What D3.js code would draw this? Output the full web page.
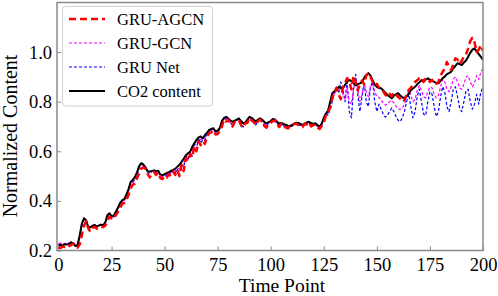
<!DOCTYPE html>
<html>
<head>
<meta charset="utf-8">
<script src="https://cdn.jsdelivr.net/npm/d3@7"></script>
<style>
  body { margin: 0; background: #fff; }
  svg { display: block; }
  text { font-family: "Liberation Serif", "Times New Roman", serif; }
</style>
</head>
<body>
<div id="chart-area"></div>
<script>
var xTicks = [0, 25, 50, 75, 100, 125, 150, 175, 200]
var yTicks = [0.2, 0.4, 0.6, 0.8, 1.0]
var seriesNames = ['GRU-AGCN', 'GRU-GCN', 'GRU Net', 'CO2 content']

// measured CO2 content, t = 0..200
var co2 = [
  .219, .222, .221, .225, .224, .226, .233, .227, .218, .222,
  .262, .308, .330, .322, .296, .293, .299, .303, .296, .300,
  .304, .302, .312, .342, .350, .338, .340, .356, .372, .392,
  .402, .408, .425, .448, .476, .484, .497, .515, .540, .552,
  .547, .534, .520, .518, .521, .523, .520, .522, .506, .504,
  .508, .512, .516, .521, .525, .529, .538, .546, .558, .570,
  .584, .592, .598, .618, .632, .646, .656, .660, .652, .666,
  .675, .686, .690, .693, .680, .683, .694, .722, .735, .739,
  .732, .724, .719, .724, .728, .733, .722, .713, .716, .728,
  .739, .735, .727, .719, .728, .733, .727, .718, .713, .718,
  .722, .730, .728, .719, .712, .714, .710, .707, .703, .702,
  .706, .711, .715, .714, .710, .706, .711, .716, .719, .714,
  .710, .713, .706, .699, .712, .735, .752, .764, .800, .834,
  .842, .848, .860, .856, .853, .868, .880, .888, .883, .875,
  .866, .871, .874, .879, .896, .908, .915, .905, .887, .868,
  .860, .855, .854, .845, .836, .827, .820, .814, .824, .830,
  .834, .825, .818, .814, .822, .831, .846, .853, .860, .870,
  .878, .887, .880, .889, .894, .889, .885, .880, .876, .874,
  .884, .895, .901, .911, .915, .921, .935, .944, .955, .952,
  .948, .958, .966, .981, .997, 1.010, 1.015, 1.003, .992, .981,
  .968
]

var gruAgcn = [
  .212, .210, .216, .214, .220, .218, .222, .228, .214, .212,
  .225, .262, .300, .318, .290, .276, .290, .296, .288, .294,
  .298, .294, .300, .318, .336, .330, .326, .342, .356, .370,
  .388, .392, .404, .425, .450, .466, .470, .492, .510, .530,
  .536, .528, .508, .495, .510, .516, .505, .515, .492, .488,
  .500, .494, .508, .500, .518, .505, .525, .500, .545, .520,
  .572, .560, .588, .575, .620, .600, .640, .625, .640, .630,
  .660, .672, .676, .685, .668, .670, .680, .700, .728, .720,
  .728, .712, .700, .718, .722, .726, .705, .696, .712, .715,
  .735, .724, .718, .705, .722, .728, .718, .702, .695, .712,
  .715, .722, .726, .708, .698, .712, .700, .696, .692, .700,
  .698, .710, .712, .705, .700, .698, .712, .708, .715, .700,
  .705, .708, .696, .690, .702, .715, .745, .760, .775, .815,
  .840, .855, .830, .810, .860, .875, .895, .880, .850, .905,
  .880, .845, .870, .885, .870, .905, .915, .900, .880, .865,
  .872, .858, .850, .842, .828, .820, .832, .822, .838, .828,
  .820, .812, .800, .806, .828, .848, .856, .870, .880, .886,
  .895, .898, .880, .895, .890, .880, .888, .870, .872, .880,
  .905, .920, .935, .960, .940, .928, .950, .975, .970, .952,
  .965, .982, .990, 1.015, 1.045, 1.058, 1.040, 1.000, 1.010, 1.028,
  1.005
]

var gruGcn = [
  .228, .230, .227, .229, .230, .231, .234, .232, .222, .224,
  .250, .300, .328, .325, .300, .292, .302, .306, .298, .303,
  .306, .300, .310, .335, .352, .342, .335, .352, .368, .385,
  .396, .402, .418, .440, .468, .478, .486, .508, .530, .545,
  .548, .538, .520, .512, .520, .524, .515, .520, .505, .498,
  .505, .506, .512, .515, .522, .520, .532, .530, .552, .555,
  .578, .580, .594, .605, .626, .630, .650, .648, .650, .655,
  .668, .680, .686, .690, .675, .676, .688, .712, .730, .732,
  .728, .718, .712, .720, .724, .728, .715, .705, .712, .722,
  .734, .730, .720, .712, .724, .730, .722, .712, .706, .714,
  .718, .726, .722, .714, .706, .712, .705, .700, .697, .700,
  .704, .710, .712, .710, .704, .702, .708, .712, .716, .708,
  .705, .710, .700, .690, .704, .726, .745, .758, .790, .820,
  .830, .850, .840, .860, .830, .810, .860, .800, .790, .850,
  .890, .850, .800, .830, .870, .840, .820, .860, .870, .840,
  .820, .818, .808, .795, .786, .790, .800, .805, .795, .782,
  .772, .768, .775, .790, .820, .845, .825, .800, .810, .845,
  .865, .845, .820, .815, .840, .860, .855, .830, .815, .825,
  .860, .890, .880, .850, .840, .860, .890, .900, .880, .855,
  .850, .870, .900, .905, .880, .860, .875, .905, .890, .920,
  .935
]

var gruNet = [
  .225, .226, .224, .228, .226, .229, .232, .230, .220, .222,
  .252, .298, .325, .320, .295, .290, .300, .302, .295, .300,
  .303, .298, .308, .336, .348, .338, .332, .350, .366, .384,
  .394, .400, .416, .438, .470, .475, .484, .505, .532, .546,
  .545, .532, .516, .510, .518, .520, .512, .518, .500, .492,
  .502, .500, .512, .508, .520, .512, .530, .505, .552, .535,
  .582, .565, .598, .580, .632, .610, .655, .632, .648, .645,
  .668, .682, .688, .692, .672, .675, .690, .718, .735, .725,
  .730, .715, .705, .722, .728, .730, .708, .698, .715, .720,
  .742, .728, .716, .706, .726, .732, .716, .704, .700, .716,
  .720, .728, .720, .712, .700, .714, .702, .698, .694, .702,
  .700, .712, .716, .706, .704, .700, .714, .708, .718, .702,
  .706, .712, .698, .688, .708, .732, .756, .745, .770, .800,
  .845, .860, .835, .880, .850, .800, .880, .760, .735, .850,
  .910, .830, .760, .820, .880, .800, .780, .860, .880, .800,
  .760, .790, .770, .750, .738, .745, .760, .775, .760, .740,
  .725, .720, .735, .760, .800, .830, .780, .735, .760, .820,
  .850, .800, .750, .745, .800, .840, .830, .780, .740, .760,
  .820, .860, .840, .780, .760, .800, .850, .860, .820, .775,
  .760, .800, .845, .850, .800, .770, .790, .830, .790, .840,
  .860
]

var width = 498
var height = 296

var svg = d3.select('#chart-area').append('svg')
    .attr('width', width)
    .attr('height', height)

var x = d3.scaleLinear().domain([-0.7, 200]).range([57, 483])
var y = d3.scaleLinear().domain([0.2, 1.2]).range([250.5, 2.5])

var frameColor = '#8a8a8a'

// axes with inward ticks
var xAxisGroup = svg.append('g')
    .attr('transform', `translate(0, ${y(0.2)})`)
    .call(d3.axisBottom(x).tickValues(xTicks).tickFormat(d3.format('d'))
        .tickSizeInner(-4).tickSizeOuter(0).tickPadding(7))
xAxisGroup.select('.domain').remove()

var yAxisGroup = svg.append('g')
    .attr('transform', `translate(${x.range()[0]}, 0)`)
    .call(d3.axisLeft(y).tickValues(yTicks).tickFormat(d3.format('.1f'))
        .tickSizeInner(-4).tickSizeOuter(0).tickPadding(5))
yAxisGroup.select('.domain').remove()

svg.selectAll('.tick line').attr('stroke', frameColor).attr('stroke-width', 1)
svg.selectAll('.tick text')
    .attr('fill', '#000')
    .style('font-family', '"Liberation Serif", "Times New Roman", serif')
    .style('font-size', '18.5px')

var seriesData = [gruNet, gruGcn, co2, gruAgcn]
var styles = {
  'GRU-AGCN': { color: '#ff0000', w: 2.5, dash: '7,4' },
  'GRU-GCN': { color: '#ff00ff', w: 1.2, dash: '3,2' },
  'GRU Net': { color: '#0000ff', w: 1.2, dash: '3,2' },
  'CO2 content': { color: '#000000', w: 2, dash: null }
}
var drawOrder = ['GRU Net', 'GRU-GCN', 'CO2 content', 'GRU-AGCN']

var line = d3.line().x((d, i) => x(i)).y(d => y(d))

svg.append('defs').append('clipPath').attr('id', 'clip')
    .append('rect').attr('x', 57).attr('y', 2.5).attr('width', 426).attr('height', 248)

var lines = svg.append('g').attr('clip-path', 'url(#clip)')
drawOrder.forEach((name, k) => {
  var s = styles[name]
  lines.append('path')
      .datum(seriesData[k])
      .attr('fill', 'none')
      .attr('stroke', s.color)
      .attr('stroke-width', s.w)
      .attr('stroke-dasharray', s.dash)
      .attr('stroke-linejoin', 'round')
      .attr('d', line)
})

// frame
svg.append('rect')
    .attr('x', 57).attr('y', 2.5)
    .attr('width', 426).attr('height', 248)
    .attr('fill', 'none')
    .attr('stroke', frameColor)
    .attr('stroke-width', 1.5)

// axis labels
svg.append('text')
    .attr('x', 282)
    .attr('y', 292)
    .attr('text-anchor', 'middle')
    .attr('font-size', '19.5px')
    .text('Time Point')

svg.append('text')
    .attr('x', -136)
    .attr('y', 17)
    .attr('text-anchor', 'middle')
    .attr('transform', 'rotate(-90)')
    .attr('font-size', '20px')
    .text('Normalized Content')

// legend
var legend = svg.append('g')
legend.append('rect')
    .attr('x', 62.5).attr('y', 6.5)
    .attr('width', 150).attr('height', 99.5)
    .attr('rx', 3)
    .attr('fill', '#fff')
    .attr('fill-opacity', 0.85)
    .attr('stroke', '#d0d0d0')
    .attr('stroke-width', 1)

seriesNames.forEach((name, i) => {
  var s = styles[name]
  var cy = 19 + i * 24
  legend.append('line')
      .attr('x1', 69).attr('x2', 105)
      .attr('y1', cy).attr('y2', cy)
      .attr('stroke', s.color)
      .attr('stroke-width', s.w)
      .attr('stroke-dasharray', s.dash)
  legend.append('text')
      .attr('x', 117)
      .attr('y', cy)
      .attr('dy', '0.35em')
      .attr('font-size', '16.5px')
      .text(name)
})
</script>
</body>
</html>
